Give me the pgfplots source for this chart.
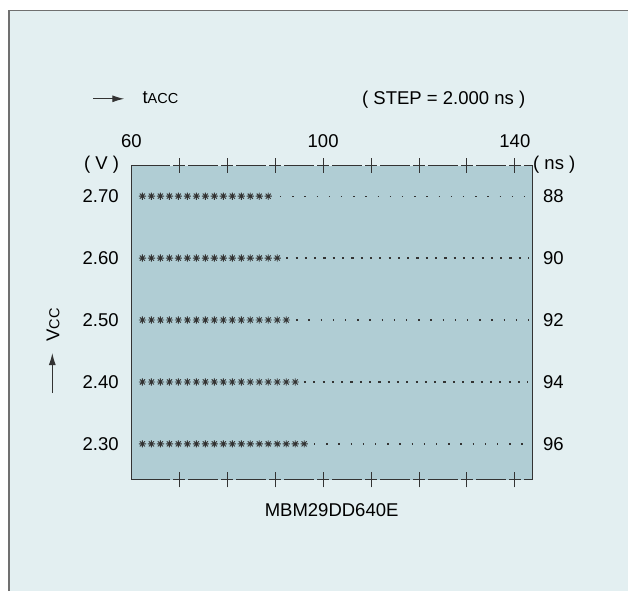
\documentclass[border=0pt]{standalone}
\usepackage{fontspec}
\setmainfont{Liberation Sans}
\usepackage{pgfplots}
\pgfplotsset{compat=1.18}
\usetikzlibrary{arrows.meta}
\definecolor{bgc}{HTML}{E3EFF1}
\definecolor{plotc}{HTML}{B0CDD4}
\definecolor{ink}{HTML}{333333}
\definecolor{frame}{HTML}{707070}
\pgfdeclareplotmark{ast8}{%
 \pgfpathmoveto{\pgfqpoint{0pt}{\pgfplotmarksize}}\pgfpathlineto{\pgfqpoint{0pt}{-\pgfplotmarksize}}%
 \pgfpathmoveto{\pgfqpoint{\pgfplotmarksize}{0pt}}\pgfpathlineto{\pgfqpoint{-\pgfplotmarksize}{0pt}}%
 \pgfpathmoveto{\pgfqpoint{.7071\pgfplotmarksize}{.7071\pgfplotmarksize}}\pgfpathlineto{\pgfqpoint{-.7071\pgfplotmarksize}{-.7071\pgfplotmarksize}}%
 \pgfpathmoveto{\pgfqpoint{-.7071\pgfplotmarksize}{.7071\pgfplotmarksize}}\pgfpathlineto{\pgfqpoint{.7071\pgfplotmarksize}{-.7071\pgfplotmarksize}}%
 \pgfusepathqstroke}
\pgfplotsset{
  passrow/.style={only marks, mark=ast8, mark size=3.6pt, mark options={draw=ink, line width=0.9pt, solid}},
  looserow/.style={ink, line width=1.3pt, mark=none, dash pattern=on 1.4pt off 10.8pt},
  tightrow/.style={ink, line width=1.2pt, mark=none, dash pattern=on 2.2pt off 7.1pt},
}
\begin{document}
\begin{tikzpicture}[font=\fontsize{18.5}{22}\selectfont]
\path[use as bounding box] (0,0) rectangle (628pt,-591pt);
\fill[white] (0,0) rectangle (628pt,-591pt);
\fill[bgc] (8.8pt,-10.6pt) rectangle (628pt,-591pt);
\draw[frame, line width=1.4pt] (8.8pt,-591pt) -- (8.8pt,-10.6pt) -- (628pt,-10.6pt);
\begin{axis}[at={(131.4pt,-479.8pt)}, anchor=south west, scale only axis,
  width=401.2pt, height=314pt,
  xmin=60, xmax=143.7, ymin=2.242, ymax=2.749,
  axis background/.style={fill=plotc},
  separate axis lines,
  x axis line style={ink, line width=1.1pt, dash pattern=on 12pt off 3pt on 29.93pt off 3pt, dash phase=6pt},
  y axis line style={ink, line width=1.3pt},
  xtick={70,80,...,140}, xticklabels={},
  xtick pos=both, xticklabel pos=upper,
  major tick length=15pt, tick align=center,
  xtick style={ink, line width=1pt, solid},
  extra x ticks={60,100,140}, extra x tick labels={60,100,140},
  extra x tick style={major tick length=0pt},
  xticklabel style={inner sep=0pt, yshift=17.8pt},
  ytick={2.3,2.4,2.5,2.6,2.7}, yticklabels={2.30,2.40,2.50,2.60,2.70},
  ytick style={draw=none},
  ytick pos=left,
  yticklabel style={inner sep=0pt, xshift=-5pt},
  clip=false,
]
% dotted (fail) regions
\addplot[looserow] coordinates {(91.0,2.70) (142.8,2.70)};
\addplot[tightrow] coordinates {(92.3,2.60) (142.8,2.60)};
\addplot[looserow] coordinates {(94.4,2.50) (142.8,2.50)};
\addplot[tightrow] coordinates {(96.0,2.40) (142.8,2.40)};
\addplot[looserow] coordinates {(98.1,2.30) (142.8,2.30)};
% pass (star) regions
\addplot[passrow] coordinates {(62.3,2.70)(64.18,2.70)(66.05,2.70)(67.93,2.70)(69.8,2.70)(71.68,2.70)(73.55,2.70)(75.43,2.70)(77.3,2.70)(79.18,2.70)(81.05,2.70)(82.93,2.70)(84.8,2.70)(86.68,2.70)(88.55,2.70)};
\addplot[passrow] coordinates {(62.3,2.60)(64.18,2.60)(66.05,2.60)(67.93,2.60)(69.8,2.60)(71.68,2.60)(73.55,2.60)(75.43,2.60)(77.3,2.60)(79.18,2.60)(81.05,2.60)(82.93,2.60)(84.8,2.60)(86.68,2.60)(88.55,2.60)(90.43,2.60)};
\addplot[passrow] coordinates {(62.3,2.50)(64.18,2.50)(66.05,2.50)(67.93,2.50)(69.8,2.50)(71.68,2.50)(73.55,2.50)(75.43,2.50)(77.3,2.50)(79.18,2.50)(81.05,2.50)(82.93,2.50)(84.8,2.50)(86.68,2.50)(88.55,2.50)(90.43,2.50)(92.3,2.50)};
\addplot[passrow] coordinates {(62.3,2.40)(64.18,2.40)(66.05,2.40)(67.93,2.40)(69.8,2.40)(71.68,2.40)(73.55,2.40)(75.43,2.40)(77.3,2.40)(79.18,2.40)(81.05,2.40)(82.93,2.40)(84.8,2.40)(86.68,2.40)(88.55,2.40)(90.43,2.40)(92.3,2.40)(94.18,2.40)};
\addplot[passrow] coordinates {(62.3,2.30)(64.18,2.30)(66.05,2.30)(67.93,2.30)(69.8,2.30)(71.68,2.30)(73.55,2.30)(75.43,2.30)(77.3,2.30)(79.18,2.30)(81.05,2.30)(82.93,2.30)(84.8,2.30)(86.68,2.30)(88.55,2.30)(90.43,2.30)(92.3,2.30)(94.18,2.30)(96.05,2.30)};
\end{axis}
\begin{axis}[at={(131.4pt,-479.8pt)}, anchor=south west, scale only axis,
  width=401.2pt, height=314pt,
  xmin=60, xmax=143.7, ymin=2.242, ymax=2.749,
  hide x axis, axis y line*=right, y axis line style={draw=none},
  ytick={2.3,2.4,2.5,2.6,2.7}, yticklabels={96,94,92,90,88},
  ytick style={draw=none},
  yticklabel style={inner sep=0pt, xshift=10.4pt},
]
\addplot[draw=none] coordinates {(60,2.5)};
\end{axis}
\draw[ink, line width=1.1pt] (131.4pt,-479.8pt) -- ++(12pt,0pt);
\draw[ink, line width=1.1pt] (131.4pt,-165.8pt) -- ++(12pt,0pt);
\node[anchor=east, inner sep=0pt] at (119.3pt,-165pt) {( V )};
\node[anchor=west, inner sep=0pt] at (533pt,-165pt) {( ns )};
\draw[ink, line width=1.1pt, -{Latex[length=12pt,width=7pt]}] (93.3pt,-98.8pt) -- (124.3pt,-98.8pt);
\node[anchor=base west, inner sep=0pt] at (142.3pt,-103.6pt) {t{\fontsize{14.5}{16}\selectfont ACC}};
\node[anchor=base west, inner sep=0pt] at (362pt,-104.5pt) {( STEP = 2.000 ns )};
\node[anchor=center, inner sep=0pt, rotate=90] at (53pt,-325pt) {V{\fontsize{14.5}{16}\selectfont CC}};
\draw[ink, line width=1.1pt, -{Latex[length=12pt,width=7pt]}] (52.3pt,-393pt) -- (52.3pt,-353pt);
\node[anchor=center, inner sep=0pt] at (331.6pt,-510pt) {MBM29DD640E};
\end{tikzpicture}
\end{document}
